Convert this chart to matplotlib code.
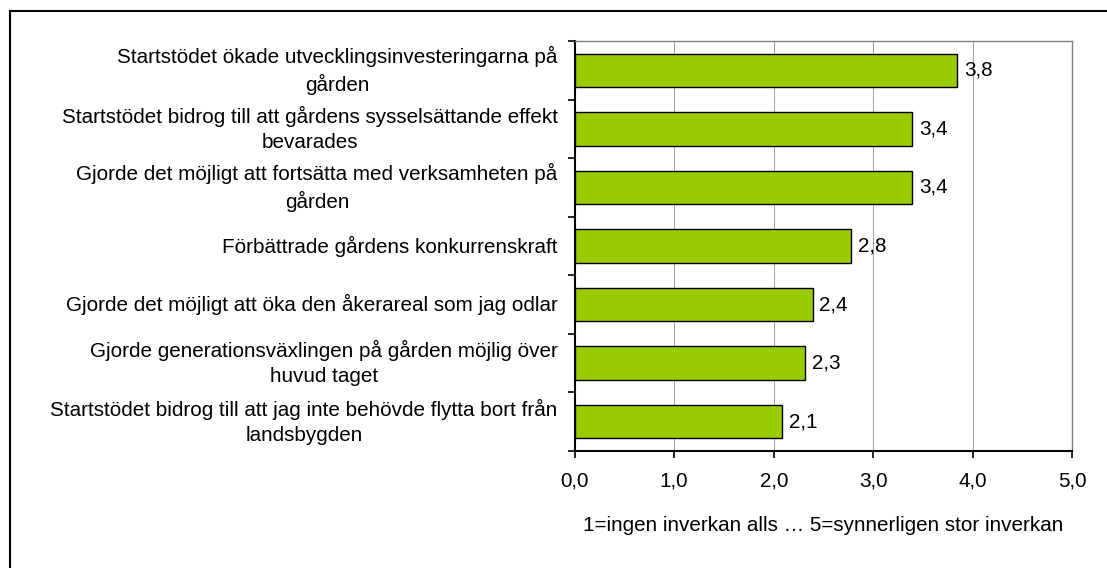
import matplotlib.pyplot as plt
from matplotlib.lines import Line2D

plt.rcParams['font.family'] = ['Liberation Sans', 'DejaVu Sans']

# Påståenden (uppifrån och ned) och medelvärden
labels = [
    "Startstödet ökade utvecklingsinvesteringarna på\ngården",
    "Startstödet bidrog till att gårdens sysselsättande effekt\nbevarades",
    "Gjorde det möjligt att fortsätta med verksamheten på\ngården",
    "Förbättrade gårdens konkurrenskraft",
    "Gjorde det möjligt att öka den åkerareal som jag odlar",
    "Gjorde generationsväxlingen på gården möjlig över\nhuvud taget",
    "Startstödet bidrog till att jag inte behövde flytta bort från\nlandsbygden",
]
values = [3.84, 3.39, 3.39, 2.78, 2.39, 2.31, 2.08]
xticks = [0, 1, 2, 3, 4, 5]
xlabel = "1=ingen inverkan alls … 5=synnerligen stor inverkan"

fs = 14.9

fig = plt.figure(figsize=(11.07, 5.68), dpi=100)
ax = fig.add_axes([0.519, 0.206, 0.4498, 0.7218])

y = list(range(len(labels)))[::-1]
ax.barh(y, values, height=0.57, color='#99CC00', edgecolor='black', linewidth=1.0, zorder=3)

for yi, v in zip(y, values):
    ax.annotate(f"{v:.1f}".replace('.', ','), (v, yi), xytext=(5, 0), textcoords='offset points',
                ha='left', va='center', fontsize=fs, zorder=4)

ax.set_xlim(0, 5)
ax.set_ylim(-0.5, len(labels) - 0.5)
ax.set_xticks(xticks)
ax.set_xticklabels([f"{t:.1f}".replace('.', ',') for t in xticks], fontsize=fs)

# kategorietiketter, centrerade flerradiga texter
ax.set_yticks(y)
ax.set_yticklabels([])
ax.tick_params(axis='y', length=0)
for yi, lab in zip(y, labels):
    ax.text(-0.17, yi, lab, ha='right', va='center', multialignment='center',
            fontsize=fs, linespacing=1.42, transform=ax.transData)

# ticks mellan kategorierna
ax.set_yticks([i - 0.5 for i in range(len(labels) + 1)], minor=True)
ax.tick_params(axis='y', which='minor', direction='out', length=5, width=1.2, color='black')
ax.tick_params(axis='x', direction='out', length=5, width=1.2, pad=10)

ax.xaxis.grid(True, color='#909090', linewidth=0.6, zorder=0)
ax.spines['left'].set_linewidth(1.5)
ax.spines['bottom'].set_linewidth(1.5)
ax.spines['top'].set_color('#808080')
ax.spines['right'].set_color('#808080')
ax.spines['top'].set_linewidth(1.0)
ax.spines['right'].set_linewidth(1.0)

ax.set_xlabel(xlabel, fontsize=fs, labelpad=18)

# ram runt diagrammet (höger/nedre kant utanför bilden)
fig.add_artist(Line2D([10 / 1107, 10 / 1107], [0, 1 - 11 / 568], color='black', linewidth=1.5))
fig.add_artist(Line2D([10 / 1107, 1], [1 - 11 / 568, 1 - 11 / 568], color='black', linewidth=1.5))

plt.savefig('out.png', dpi=100)
